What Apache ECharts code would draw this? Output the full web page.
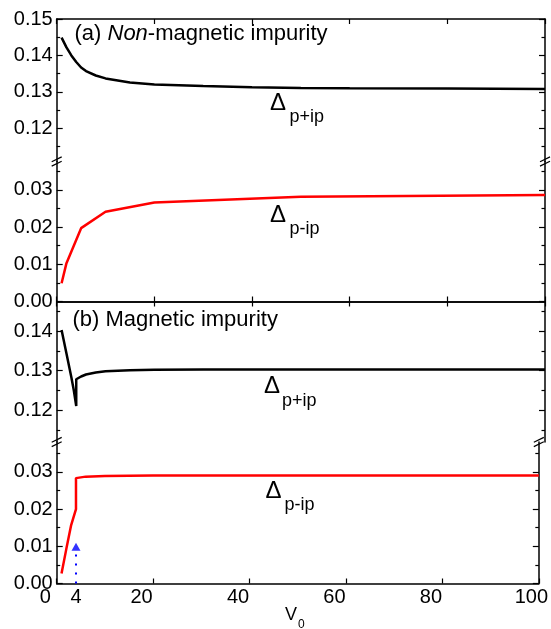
<!DOCTYPE html>
<html>
<head>
<meta charset="utf-8">
<script src="https://cdn.jsdelivr.net/npm/echarts@6/dist/echarts.min.js"></script>
<style>html,body{margin:0;padding:0;background:#fff}#c{width:551px;height:629px}</style>
</head>
<body>
<div id="c"></div>
<script>
// ---- data ----
const xTicks = [0, 20, 40, 60, 80, 100];
const xExtraTick = [4];
const yUpperMajorA = [0.12, 0.13, 0.14, 0.15];
const yUpperMajorB = [0.12, 0.13, 0.14];
const yUpperMinor = [0.115, 0.125, 0.135, 0.145];
const yLowerMajor = [0.00, 0.01, 0.02, 0.03];
const yLowerMinor = [0.005, 0.015, 0.025, 0.035];

// (a) non-magnetic impurity
const v0PlusA = [1, 2, 3, 4, 5, 6, 8, 10, 15, 20, 30, 40, 50, 60, 80, 100];
const gapPlusA = [0.1449, 0.1422, 0.1400, 0.1382, 0.1367, 0.1357, 0.1345, 0.1337, 0.1326, 0.1320, 0.1316, 0.1313, 0.1311, 0.1310, 0.1309, 0.1308];
const v0MinusA = [1, 2, 5, 10, 20, 50, 100];
const gapMinusA = [0.0049, 0.0103, 0.0197, 0.0241, 0.0266, 0.0281, 0.0286];

// (b) magnetic impurity
const v0PlusB = [1, 2, 3, 3.5, 4, 4, 5, 6, 8, 10, 15, 20, 30, 50, 100];
const gapPlusB = [0.1403, 0.1343, 0.1283, 0.1250, 0.1210, 0.1278, 0.1285, 0.1290, 0.1295, 0.1298, 0.1301, 0.1302, 0.1303, 0.1303, 0.1303];
const v0MinusB = [1, 2, 3, 4, 4, 6, 10, 20, 50, 100];
const gapMinusB = [0.0027, 0.0093, 0.0157, 0.0200, 0.0283, 0.0287, 0.0289, 0.0290, 0.0290, 0.0290];

// arrow marker at V0 = 4
const arrowV0 = [4, 4];
const arrowGap = [0, 0.0089];
const arrowHead = [4, 0.0099];

// axis ranges of the four broken segments
const rangeUpperA = [0.1109, 0.1500];
const rangeLowerA = [0, 0.0376];
const rangeUpperB = [0.1119, 0.1475];
const rangeLowerB = [0, 0.0380];

// ---- chart ----
const FONT = 'Liberation Sans, Arial, sans-serif';
const zip = (xs, ys) => xs.map((x, i) => [x, ys[i]]);
const grids = [
  { left: 56.7, right: 6, top: 19, height: 142.5 },
  { left: 56.7, right: 6, top: 161.5, height: 140 },
  { left: 56.7, right: 6, top: 301.5, height: 140.5 },
  { left: 56.7, right: 6, top: 442, height: 141.5 }
];
const axLine = { show: true, lineStyle: { color: '#000', width: 1.5 } };
const tickStyle = { color: '#000', width: 1.2 };

function yAxesFor(g, range, major, minor, labels) {
  const base = { gridIndex: g, type: 'value', min: range[0], max: range[1], splitLine: { show: false } };
  return [
    Object.assign({}, base, {
      position: 'left', axisLine: axLine,
      axisTick: { inside: true, length: 6, customValues: major, lineStyle: tickStyle },
      axisLabel: { show: true, customValues: labels, margin: 4, color: '#000', fontSize: 20, fontFamily: FONT,
        formatter: v => v.toFixed(2) }
    }),
    Object.assign({}, base, {
      position: 'left', axisLine: { show: false },
      axisTick: { inside: true, length: 3.5, customValues: minor, lineStyle: tickStyle },
      axisLabel: { show: false }
    }),
    Object.assign({}, base, {
      position: 'right', axisLine: axLine,
      axisTick: { inside: true, length: 6, customValues: major, lineStyle: tickStyle },
      axisLabel: { show: false }
    }),
    Object.assign({}, base, {
      position: 'right', axisLine: { show: false },
      axisTick: { inside: true, length: 3.5, customValues: minor, lineStyle: tickStyle },
      axisLabel: { show: false }
    })
  ];
}

const yAxis = [].concat(
  yAxesFor(0, rangeUpperA, yUpperMajorA, yUpperMinor, yUpperMajorA),
  yAxesFor(1, rangeLowerA, yLowerMajor, yLowerMinor, yLowerMajor),
  yAxesFor(2, rangeUpperB, yUpperMajorB, yUpperMinor, yUpperMajorB),
  yAxesFor(3, rangeLowerB, yLowerMajor, yLowerMinor, yLowerMajor)
);

function xAxisFor(g, pos, showLabels) {
  return {
    gridIndex: g, type: 'value', position: pos, min: 0, max: 100, interval: 20,
    axisLine: axLine, splitLine: { show: false },
    axisTick: { inside: true, length: 5, lineStyle: tickStyle },
    axisLabel: showLabels ? {
      show: true, margin: 4, color: '#000', fontSize: 20, fontFamily: FONT, align: 'center',
      customValues: xTicks,
      formatter: v => (v === 100 ? '{b|' + v + '}' : '{a|' + v + '}'),
      rich: {
        a: { fontSize: 20, fontFamily: FONT, color: '#000', padding: [0, 23, 0, 0] },
        b: { fontSize: 20, fontFamily: FONT, color: '#000', padding: [0, 15, 0, 0] }
      }
    } : { show: false }
  };
}
const xAxis = [
  xAxisFor(0, 'top', false),
  xAxisFor(1, 'bottom', false),
  xAxisFor(2, 'top', false),
  xAxisFor(3, 'bottom', true),
  {
    gridIndex: 3, type: 'value', position: 'bottom', min: 0, max: 100,
    axisLine: { show: false }, axisTick: { show: false }, splitLine: { show: false },
    axisLabel: { show: true, customValues: xExtraTick, margin: 4, color: '#000', fontSize: 20, fontFamily: FONT }
  }
];

const lineSeries = (xi, yi, data, color) => ({
  type: 'line', xAxisIndex: xi, yAxisIndex: yi, data, symbol: 'none', smooth: false,
  lineStyle: { color, width: 2.5 }, silent: true, animation: false
});

const series = [
  lineSeries(0, 0, zip(v0PlusA, gapPlusA), '#000'),
  lineSeries(1, 4, zip(v0MinusA, gapMinusA), '#ff0000'),
  lineSeries(2, 8, zip(v0PlusB, gapPlusB), '#000'),
  lineSeries(3, 12, zip(v0MinusB, gapMinusB), '#ff0000'),
  {
    type: 'line', xAxisIndex: 3, yAxisIndex: 12, data: zip(arrowV0, arrowGap), symbol: 'none',
    lineStyle: { color: '#0000ff', width: 2, type: [2, 7] }, silent: true, animation: false
  },
  {
    type: 'scatter', xAxisIndex: 3, yAxisIndex: 12, data: [arrowHead], symbol: 'triangle',
    symbolSize: [9, 8], itemStyle: { color: '#0000ff' }, silent: true, animation: false
  }
];

const txt = (x, y, text, size, extra) => ({
  type: 'text', x, y, silent: true,
  style: Object.assign({ text, fontSize: size, fontFamily: FONT, fill: '#000', align: 'left', verticalAlign: 'middle' }, extra || {})
});

const labels = [
  txt(74.5, 34, '{n|(a) }{i|Non}{n|-magnetic impurity}', 22, {
    rich: { n: { fontSize: 22, fontFamily: FONT, fill: '#000' }, i: { fontSize: 22, fontFamily: FONT, fontStyle: 'italic', fill: '#000' } }
  }),
  txt(72.5, 320, '(b) Magnetic impurity', 22),
  txt(270, 103, 'Δ', 24), txt(289.5, 117, 'p+ip', 18),
  txt(270, 215, 'Δ', 24), txt(289.5, 229, 'p-ip', 18),
  txt(264, 386, 'Δ', 24), txt(282, 401, 'p+ip', 18),
  txt(265.5, 491, 'Δ', 24), txt(284.5, 505.5, 'p-ip', 18),
  txt(285, 615, 'V', 18), txt(298, 625, '0', 12)
];

const chart = echarts.init(document.getElementById('c'), null, { renderer: 'canvas' });
chart.setOption({ animation: false, backgroundColor: '#fff', grid: grids, xAxis, yAxis, series, graphic: labels });

// axis-break marks at the junctions of the segments
const breaks = [];
[[1, 4, rangeLowerA[1]], [3, 12, rangeLowerB[1]]].forEach(([xi, yi, yv]) => {
  [0, 100].forEach(xv => {
    const p = chart.convertToPixel({ xAxisIndex: xi, yAxisIndex: yi }, [xv, yv]);
    [-2.2, 2.2].forEach(d => {
      breaks.push({
        type: 'line', silent: true,
        shape: { x1: p[0] - 5, y1: p[1] + d + 2.4, x2: p[0] + 5, y2: p[1] + d - 2.4 },
        style: { stroke: '#000', lineWidth: 1.2 }
      });
    });
  });
});
chart.setOption({ graphic: labels.concat(breaks) });
</script>
</body>
</html>
